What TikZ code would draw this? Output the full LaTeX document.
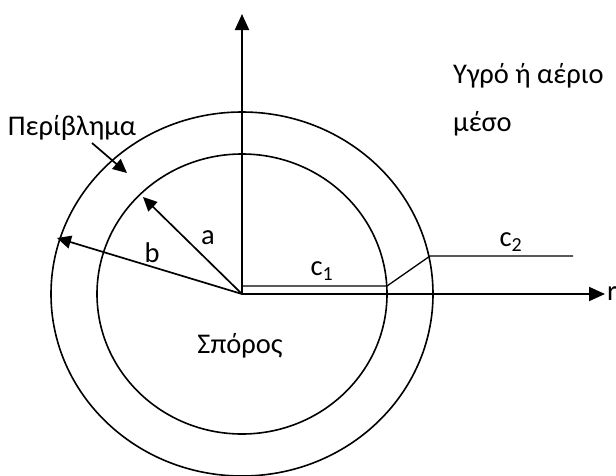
\documentclass[tikz,border=0pt]{standalone}
\usepackage{fontspec}
\setmainfont{Carlito}
\usetikzlibrary{arrows.meta}
\tikzset{
  axis/.style={line width=2pt,-{Triangle[length=16pt,width=14pt]}},
  ring/.style={line width=1.6pt},
  radarrow/.style={line width=1.7pt,-{Triangle[length=14pt,width=13pt]}},
  conc/.style={line width=1.3pt},
  lbl/.style={font=\fontsize{28.5}{34}\selectfont,inner sep=0pt}
}
\begin{document}
\begin{tikzpicture}[x=1pt,y=-1pt]
  \useasboundingbox (0,0) rectangle (616,475);
  \coordinate (O) at (242,294);
  % seed and shell
  \draw[ring] (O) ellipse [x radius=145pt, y radius=140pt];
  \draw[ring] (O) ellipse [x radius=191pt, y radius=182pt];
  % axes
  \coordinate (Ztip) at (242,14);
  \coordinate (Rtip) at (605,294);
  \draw[axis] (O) -- (Ztip);
  \draw[axis] (O) -- (Rtip) node[lbl,right=1pt] (r) {r};
  % radii
  \coordinate (A) at (143,197);
  \coordinate (B) at (57,238);
  \draw[radarrow] (O) -- (A);
  \draw[radarrow] (O) -- (B);
  \node[lbl] (a) at (208,238) {a};
  \node[lbl] (b) at (152,253) {b};
  % concentration profile
  \coordinate (C1s) at (242,286);
  \coordinate (C1e) at (387,286);
  \coordinate (C2s) at (430,256);
  \coordinate (C2e) at (573,256);
  \draw[conc] (C1s) -- (C1e) -- (C2s) -- (C2e);
  \node[lbl] (c1) at (322,271) {c\textsubscript{1}};
  \node[lbl] (c2) at (511,242) {c\textsubscript{2}};
  % labels
  \node[lbl] (shell) at (72,128) {Περίβλημα};
  \coordinate (S) at (127,173);
  \draw[radarrow] (92,143) -- (S);
  \node[lbl] (seed) at (240,346) {Σπόρος};
  \node[lbl,anchor=west] (med1) at (453,76) {Υγρό ή αέριο};
  \node[lbl,anchor=west] (med2) at (453,124) {μέσο};
\end{tikzpicture}
\end{document}
